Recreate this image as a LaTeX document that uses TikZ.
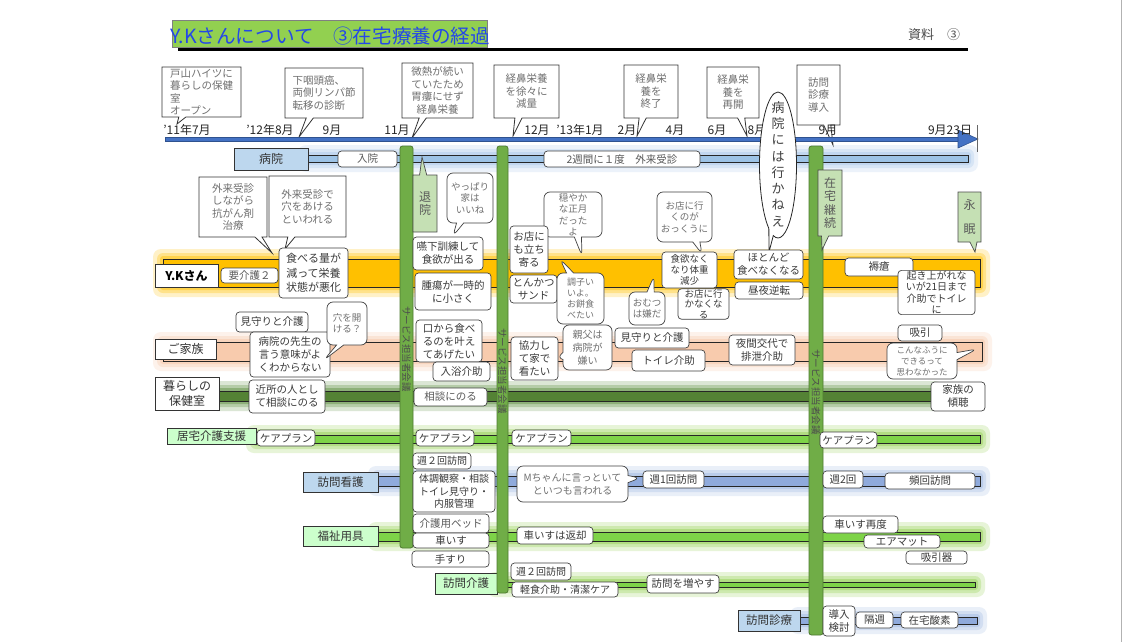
\documentclass[tikz,border=0pt]{standalone}
\usepackage{fontspec}
\setmainfont{Noto Sans CJK JP}
\usetikzlibrary{shapes.callouts,shapes.geometric}
\newcommand\fs[2]{\fontsize{#1}{#2}\selectfont}
\definecolor{txtc}{HTML}{3A3A3A}
\definecolor{saytxt}{HTML}{707070}
\definecolor{lblue}{HTML}{BDD7EE}
\definecolor{lgreen}{HTML}{CCFFCC}
\definecolor{calgreen}{HTML}{C5E0B4}
\definecolor{bargreen}{HTML}{70AD47}
\definecolor{bardark}{HTML}{4E7A31}
\definecolor{tlblue}{HTML}{4472C4}
\definecolor{tldark}{HTML}{2F528F}
\definecolor{titleg}{HTML}{92D050}
\definecolor{titleb}{HTML}{2448E8}
\definecolor{hospb}{HTML}{9DC3E6}
\definecolor{hospg}{HTML}{A9C8EA}
\definecolor{orgb}{HTML}{FFC000}
\definecolor{orgg}{HTML}{FFC000}
\definecolor{famb}{HTML}{F8CBAD}
\definecolor{famg}{HTML}{F6C4A4}
\definecolor{dgb}{HTML}{548235}
\definecolor{dgg}{HTML}{5E9040}
\definecolor{lgb}{HTML}{7ED348}
\definecolor{lgg}{HTML}{92D050}
\definecolor{nbb}{HTML}{8FAADC}
\definecolor{nbg}{HTML}{9DB8E2}
\newcommand\bx[7][]{\node[#1,minimum width={(#5)-(#3)},minimum height={(#6)-(#4)}] (#2) at ({((#3)+(#5))/2},{((#4)+(#6))/2}) {#7};}
\newcommand\band[6]{%
  \fill[#6,opacity=.22,rounded corners=8pt] ({#1-10},{#2-10}) rectangle ({#3+10},{#4+10});
  \fill[#6,opacity=.3,rounded corners=6pt] ({#1-6},{#2-6}) rectangle ({#3+6},{#4+6});
  \fill[#6,opacity=.45,rounded corners=3pt] ({#1-3},{#2-3}) rectangle ({#3+3},{#4+3});
  \draw[black!85,line width=.7pt,fill=#5] (#1,#2) rectangle (#3,#4);}
\begin{document}
\begin{tikzpicture}[x=1pt,y=-1pt,
  box/.style={draw=black!75,line width=.7pt,fill=white,rounded corners=3.5pt,align=center,inner sep=.5pt,text=txtc,font=\fs{10.5}{13}},
  say/.style={rectangle callout,draw=black!75,line width=.7pt,fill=white,rounded corners=6pt,align=center,inner sep=.5pt,text=saytxt,font=\fs{9.5}{11.5}},
  note/.style={rectangle callout,draw=black!80,line width=.8pt,fill=white,align=center,inner sep=1pt,text=saytxt,font=\fs{10.5}{12.5}},
  lab/.style={draw=black!80,line width=.7pt,fill=white,inner sep=1pt,align=center,text=black!80,font=\fs{12}{15}},
  blab/.style={lab,fill=lblue},
  glab/.style={lab,fill=lgreen,font=\fs{11.5}{13}},
  gnote/.style={rectangle callout,draw=black!70,line width=.7pt,fill=calgreen,align=center,inner sep=0pt,text=black!65,font=\fs{12}{13.5}},
  bar/.style={draw=bardark,fill=bargreen,rounded corners=2.5pt,line width=.8pt},
  mon/.style={text=black!85,font=\fs{12}{13},inner sep=0pt},
  vtext/.style={rotate=-90,text=black!70,font=\fs{9.5}{10},inner sep=0pt}]
\useasboundingbox (0,0) rectangle (1137,642);
\fill[white] (0,0) rectangle (1137,642);
\draw[gray!60,line width=.8pt] (1121,0) -- (1121,642);

% title
\draw[black,line width=3pt] (178,50) -- (968,50);
\bx[draw=black!50,fill=titleg,inner sep=0pt]{titlebox}{172}{20}{487}{47}{}
\node[anchor=west,text=titleb,font=\fs{19.6}{20},inner sep=0pt] (title) at (170,36) {Y.Kさんについて　③在宅療養の経過};
\node[text=black!70,font=\fs{13}{14}] (shiryo) at (934,35) {資料　③};

% bands
\band{308}{155}{968}{162}{hospb}{hospg}
\band{163}{259}{980}{287}{orgb}{orgg}
\band{163}{342}{982}{361}{famb}{famg}
\band{219}{391}{933}{401}{dgb}{dgg}
\band{256}{435}{980}{443}{lgb}{lgg}
\band{378}{476}{980}{486}{nbb}{nbg}
\band{378}{532}{980}{541}{lgb}{lgg}
\band{497}{582}{975}{587}{lgb}{lgg}
\band{800}{617}{977}{624}{nbb}{nbg}

% timeline callouts
\bx[note,align=left,callout absolute pointer={(177,124)}]{c1}{162}{67}{241}{117}{戸山ハイツに\\暮らしの保健\\室\\オープン}
\bx[note,align=left,callout absolute pointer={(299,137)}]{c2}{285}{68}{363}{118}{下咽頭癌、\\両側リンパ節\\転移の診断}
\bx[note,callout absolute pointer={(412,138)}]{c3}{402}{63}{473}{118}{微熱が続い\\ていたため\\胃瘻にせず\\経鼻栄養}
\bx[note,callout absolute pointer={(513,136)}]{c4}{494}{65}{559}{118}{経鼻栄養\\を徐々に\\減量}
\bx[note,callout absolute pointer={(637,136)}]{c5}{624}{65}{678}{118}{経鼻栄\\養を\\終了}
\bx[note,callout absolute pointer={(747,136)}]{c6}{707}{67}{759}{118}{経鼻栄\\養を\\再開}
\bx[note,callout absolute pointer={(833,145)}]{c7}{797}{65}{840}{125}{訪問\\診療\\導入}

% timeline
\fill[tlblue,draw=tldark,line width=.6pt] (165,137) rectangle (959,141);
\fill[tlblue,draw=tldark,line width=.6pt] (958,130) -- (978,139) -- (958,148) -- cycle;
\draw[black!60,line width=.8pt] (977,125) -- (977,152);
\node[mon] (m1) at (187,130) {’11年7月};
\node[mon] (m2) at (270,130) {’12年8月};
\node[mon] (m3) at (332,130) {9月};
\node[mon] (m4) at (397,130) {11月};
\node[mon] (m5) at (537,130) {12月};
\node[mon] (m6) at (580,130) {’13年1月};
\node[mon] (m7) at (627,130) {2月};
\node[mon] (m8) at (675,130) {4月};
\node[mon] (m9) at (717,130) {6月};
\node[mon] (m10) at (757,130) {8月};
\node[mon] (m11) at (828,130) {9月};
\node[mon] (m12) at (950,130) {9月23日};

% big oval
\node[ellipse callout,draw=black!85,line width=.8pt,fill=white,minimum width=37,minimum height=146,inner sep=0pt,callout absolute pointer={(769,252)}] (oval) at (778,165) {};
\node[align=center,text=black!75,font=\fs{13}{16.3},inner sep=0pt] (ovaltext) at (778,164) {病\\院\\に\\は\\行\\か\\ね\\え};

% row labels
\bx[blab]{hosplab}{234}{148}{308}{170}{病院}
\bx[lab,font=\bfseries\fs{12}{14},text=black]{yklab}{155}{264}{218}{287}{Y.Kさん}
\bx[lab]{kazokulab}{155}{339}{216}{359}{ご家族}
\bx[lab]{kurashilab}{155}{377}{219}{410}{暮らしの\\保健室}
\bx[glab]{kyotakulab}{167}{428}{256}{444}{居宅介護支援}
\bx[blab,font=\fs{11.5}{13}]{kangolab}{303}{472}{378}{492}{訪問看護}
\bx[glab]{fukushilab}{303}{526}{378}{546}{福祉用具}
\bx[glab]{kaigolab}{435}{573}{497}{594}{訪問介護}
\bx[blab,font=\fs{11.5}{13}]{shinryolab}{738}{610}{800}{631}{訪問診療}

% bars
\bx[bar]{bar1}{400}{146}{413}{548}{}
\bx[bar]{bar2}{497}{146}{508}{593}{}
\bx[bar]{bar3}{809}{146}{823}{635}{}
\node[vtext] (v1) at (406.5,349) {サービス担当者会議};
\node[vtext] (v2) at (502.5,371) {サービス担当者会議};
\node[vtext] (v3) at (816,392) {サービス担当者会議};

% green callouts
\bx[gnote,callout absolute pointer={(422,157)}]{taiin}{413}{175}{437}{232}{退\\院}
\bx[gnote,callout absolute pointer={(822,250)}]{zaitaku}{818}{170}{842}{236}{在\\宅\\継\\続}
\bx[gnote,font=\fs{12}{24},callout absolute pointer={(975,252)}]{eimin}{958}{192}{981}{242}{永\\眠}

% hospital row
\bx[box,text=black!65]{nyuin}{338}{151}{397}{167}{入院}
\bx[box,text=black!65]{gairai}{544}{151}{700}{167}{2週間に１度　外来受診}

% Y.K row
\bx[box,text=black!65]{yokaigo}{221}{268}{278}{283}{要介護２}
\bx[note,callout absolute pointer={(272,253)}]{n1}{199}{177}{267}{237}{外来受診\\しながら\\抗がん剤\\治療}
\bx[note,callout absolute pointer={(285,249)}]{n2}{269}{176}{346}{237}{外来受診で\\穴をあける\\といわれる}
\bx[box,font=\fs{11}{14.5}]{taberu}{279}{248}{348}{298}{食べる量が\\減って栄養\\状態が悪化}
\bx[say,callout absolute pointer={(453,236)}]{yappari}{447}{173}{493}{223}{やっぱり\\家は\\いいね}
\bx[box]{enge}{413}{237}{483}{270}{嚥下訓練して\\食欲が出る}
\bx[box]{shuyo}{415}{273}{491}{310}{腫瘍が一時的\\に小さく}
\bx[say,callout absolute pointer={(582,256)}]{odayaka}{544}{192}{602}{237}{穏やか\\な正月\\だった\\よ}
\bx[box]{omise}{510}{226}{548}{273}{お店に\\も立ち\\寄る}
\bx[box]{tonkatsu}{510}{275}{557}{303}{とんかつ\\サンド}
\bx[say,font=\fs{9}{11},callout absolute pointer={(560,259)}]{choshi}{557}{273}{604}{324}{調子い\\いよ。\\お餅食\\べたい}
\bx[say,callout absolute pointer={(654,276)}]{omutsu}{629}{292}{665}{325}{おむつ\\は嫌だ}
\bx[say,callout absolute pointer={(702,254)}]{okkuu}{657}{192}{712}{242}{お店に行\\くのが\\おっくうに}
\bx[box,font=\fs{9.5}{11}]{shokuyoku}{662}{252}{717}{288}{食欲なく\\なり体重\\減少}
\bx[box,font=\fs{9.5}{10.5}]{omise2}{678}{289}{729}{319}{お店に行\\かなくな\\る}
\bx[box]{hotondo}{734}{250}{803}{279}{ほとんど\\食べなくなる}
\bx[box]{chuya}{735}{282}{803}{299}{昼夜逆転}
\bx[box]{jokuso}{845}{258}{913}{276}{褥瘡}
\bx[box,font=\fs{10}{11.5}]{okiagare}{898}{272}{975}{313}{起き上がれな\\いが21日まで\\介助でトイレ\\に}

% family row
\bx[box]{mimamori1}{236}{312}{308}{332}{見守りと介護}
\bx[box]{sensei}{250}{332}{330}{377}{病院の先生の\\言う意味がよ\\くわからない}
\bx[say,callout absolute pointer={(324,360)}]{ana}{327}{302}{367}{345}{穴を開\\ける？}
\bx[box]{kuchi}{416}{320}{482}{362}{口から食べ\\るのを叶え\\てあげたい}
\bx[box]{nyuyoku}{433}{362}{490}{381}{入浴介助}
\bx[box]{kyoryoku}{511}{337}{558}{380}{協力し\\て家で\\看たい}
\bx[say,font=\fs{10}{13},callout absolute pointer={(557,358)}]{oyaji}{563}{325}{612}{370}{親父は\\病院が\\嫌い}
\bx[box]{mimamori2}{615}{328}{689}{348}{見守りと介護}
\bx[box]{toire}{632}{350}{705}{371}{トイレ介助}
\bx[box]{yakan}{729}{335}{795}{365}{夜間交代で\\排泄介助}
\bx[box]{kyuin}{898}{325}{942}{341}{吸引}
\bx[say,font=\fs{8.5}{11},callout absolute pointer={(977,349)}]{konna}{887}{343}{957}{379}{こんなふうに\\できるって\\思わなかった}

% kurashi row
\bx[box]{kinjo}{249}{380}{325}{413}{近所の人とし\\て相談にのる}
\bx[box,text=black!65]{sodan}{414}{388}{487}{406}{相談にのる}
\bx[box]{keicho}{931}{382}{985}{411}{家族の\\傾聴}

% kyotaku row
\bx[box]{cp1}{257}{430}{315}{446}{ケアプラン}
\bx[box]{cp2}{416}{430}{474}{446}{ケアプラン}
\bx[box]{cp3}{512}{430}{571}{446}{ケアプラン}
\bx[box]{cp4}{820}{432}{877}{448}{ケアプラン}

% kango row
\bx[box,font=\fs{10}{11}]{shu2a}{413}{453}{471}{469}{週２回訪問}
\bx[box,font=\fs{10}{12.5}]{taicho}{413}{471}{495}{512}{体調観察・相談\\トイレ見守り・\\内服管理}
\bx[say,font=\fs{10}{13},callout absolute pointer={(640,478)}]{mchan}{517}{466}{628}{502}{Mちゃんに言っといて\\といつも言われる}
\bx[box]{shu1}{643}{471}{704}{488}{週1回訪問}
\bx[box]{shu2b}{823}{471}{863}{488}{週2回}
\bx[box]{hinkai}{885}{473}{975}{489}{頻回訪問}

% fukushi row
\bx[box,text=black!65]{bed}{413}{514}{489}{533}{介護用ベッド}
\bx[box]{kurumaisu}{413}{533}{489}{548}{車いす}
\bx[box]{tesuri}{412}{551}{489}{567}{手すり}
\bx[box]{henkyaku}{517}{527}{593}{544}{車いすは返却}
\bx[box]{saido}{823}{516}{898}{533}{車いす再度}
\bx[box]{air}{864}{535}{940}{548}{エアマット}
\bx[box]{kyuinki}{906}{551}{967}{564}{吸引器}

% kaigo row
\bx[box,font=\fs{10}{11}]{shu2c}{511}{563}{571}{580}{週２回訪問}
\bx[box,font=\fs{10}{11}]{keishoku}{512}{582}{618}{597}{軽食介助・清潔ケア}
\bx[box]{fuyasu}{647}{575}{719}{593}{訪問を増やす}

% shinryo row
\bx[box]{donyu}{823}{606}{855}{636}{導入\\検討}
\bx[box]{kakushu}{856}{612}{893}{628}{隔週}
\bx[box]{sanso}{901}{612}{958}{628}{在宅酸素}
\end{tikzpicture}
\end{document}
